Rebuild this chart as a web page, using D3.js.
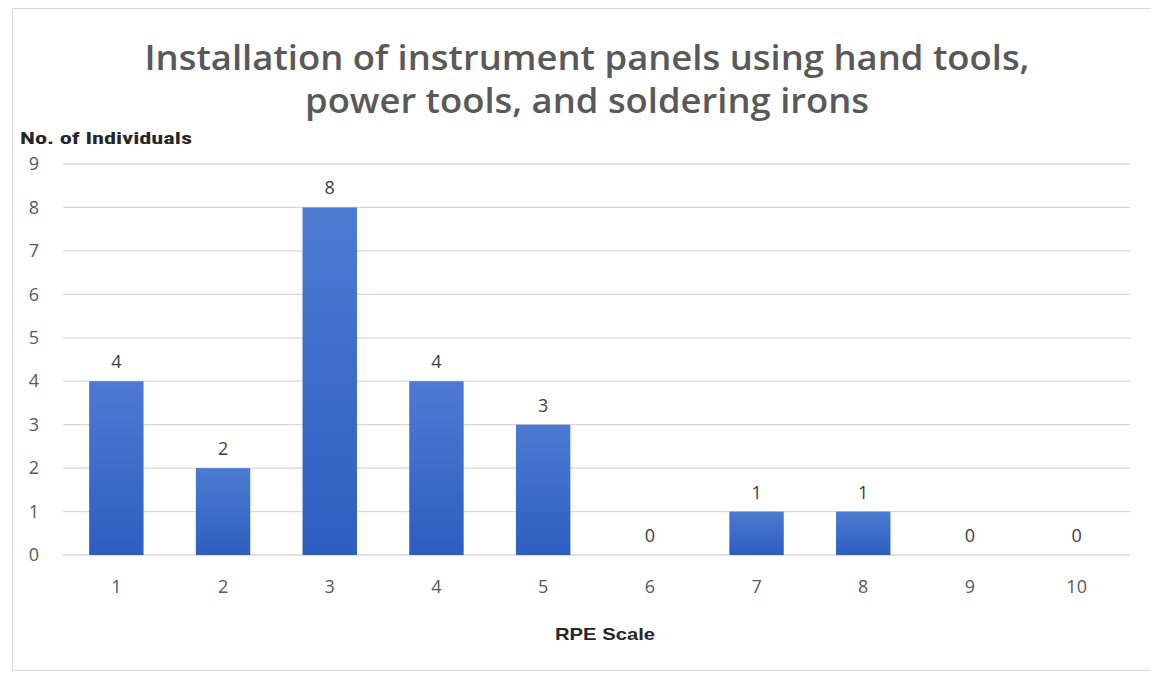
<!DOCTYPE html>
<html><head><meta charset="utf-8">
<script src="https://cdn.jsdelivr.net/npm/d3@7"></script>
<style>body{margin:0;background:#fff}svg{display:block}</style>
</head><body>
<script>
const categories = ["1","2","3","4","5","6","7","8","9","10"];
const values = [4,2,8,4,3,0,1,1,0,0];
const yTicks = [0,1,2,3,4,5,6,7,8,9];
const titleLines = ["Installation of instrument panels using hand tools,", "power tools, and soldering irons"];
const yTitle = "No. of Individuals";
const xTitle = "RPE Scale";

const W = 1151, H = 674;
const svg = d3.select("body").append("svg").attr("width", W).attr("height", H);
const defs = svg.append("defs");
const g = defs.append("linearGradient").attr("id","barGrad").attr("x1",0).attr("y1",0).attr("x2",0).attr("y2",1);
g.append("stop").attr("offset","0%").attr("stop-color","#4d7bd2");
g.append("stop").attr("offset","100%").attr("stop-color","#2d5ec0");

svg.append("rect").attr("x",12.5).attr("y",8.5).attr("width",W).attr("height",H-12)
  .attr("fill","#fff").attr("stroke","#d9d9d9");

const x = d3.scaleBand().domain(categories).range([63,1130]).paddingInner(0.49).paddingOuter(0.245);
const y = d3.scaleLinear().domain([0,9]).range([555,164]);

// gridlines
svg.append("g").selectAll("line").data(yTicks).join("line")
  .attr("x1",63).attr("x2",1130).attr("y1",d=>y(d)).attr("y2",d=>y(d))
  .attr("stroke","#d9d9d9").attr("stroke-width",1.3);

// y axis labels
const yAxis = d3.axisLeft(y).tickValues(yTicks).tickSize(0).tickPadding(0);
const ya = svg.append("g").attr("transform","translate(39,0)").call(yAxis);
ya.select(".domain").remove();
ya.selectAll("text").attr("font-family","Open Sans, sans-serif").attr("font-size",18).attr("fill","#595959");

// x axis labels
const xAxis = d3.axisBottom(x).tickSize(0).tickPadding(0);
const xa = svg.append("g").attr("transform","translate(0,580)").call(xAxis);
xa.select(".domain").remove();
xa.selectAll("text").attr("font-family","Open Sans, sans-serif").attr("font-size",18).attr("fill","#595959");

// bars
svg.append("g").selectAll("rect").data(values).join("rect")
  .attr("x",(d,i)=>x(categories[i])).attr("width",x.bandwidth())
  .attr("y",d=>y(d)).attr("height",d=>y(0)-y(d))
  .attr("fill","url(#barGrad)");

// data labels
svg.append("g").selectAll("text").data(values).join("text")
  .attr("x",(d,i)=>x(categories[i])+x.bandwidth()/2)
  .attr("y",d=>y(d)-13)
  .attr("text-anchor","middle")
  .attr("font-family","Open Sans, sans-serif").attr("font-size",18).attr("fill","#404040")
  .text(d=>d);

// title
const tl = [885, 564];
svg.append("g").selectAll("text").data(titleLines).join("text")
  .attr("x",587).attr("y",(d,i)=>70+i*43)
  .attr("text-anchor","middle")
  .attr("font-family","Open Sans, sans-serif").attr("font-weight",600).attr("font-size",35)
  .attr("textLength",(d,i)=>tl[i]).attr("lengthAdjust","spacingAndGlyphs")
  .attr("fill","#595959").text(d=>d);

svg.append("text").attr("x",20).attr("y",144)
  .attr("font-family","Liberation Sans Narrow, Roboto Condensed, Liberation Sans, sans-serif")
  .attr("font-weight","bold").attr("font-size",17).attr("fill","#262626").attr("textLength",172).attr("lengthAdjust","spacingAndGlyphs")
  .text(yTitle);

svg.append("text").attr("x",605).attr("y",640).attr("text-anchor","middle")
  .attr("font-family","Liberation Sans Narrow, Liberation Sans, sans-serif")
  .attr("font-weight","bold").attr("font-size",17).attr("fill","#262626")
  .attr("textLength",100).attr("lengthAdjust","spacingAndGlyphs")
  .text(xTitle);
</script>
</body></html>
